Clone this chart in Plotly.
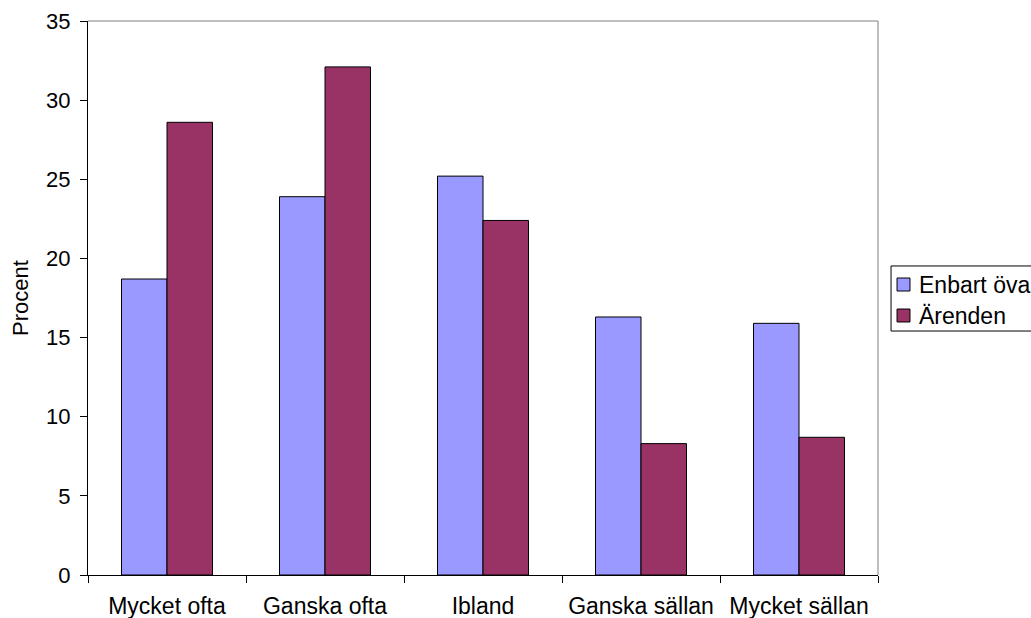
import plotly.graph_objects as go

# Response categories and the share (percent) for each group
categories = ["Mycket ofta", "Ganska ofta", "Ibland", "Ganska sällan", "Mycket sällan"]
series_names = ["Enbart öva", "Ärenden"]
enbart_ovande = [18.7, 23.9, 25.2, 16.3, 15.9]
arenden = [28.6, 32.1, 22.4, 8.3, 8.7]
y_ticks = [0, 5, 10, 15, 20, 25, 30, 35]

FONT = "Liberation Sans, Arial, sans-serif"
COLORS = ["#9999FF", "#993366"]

fig = go.Figure()
for name, values, color in zip(series_names, [enbart_ovande, arenden], COLORS):
    fig.add_trace(go.Bar(
        x=categories, y=values, name=name,
        marker=dict(color=color, line=dict(color="black", width=1)),
    ))

fig.update_layout(
    width=1031, height=618,
    margin=dict(l=88, r=153, t=21, b=43, autoexpand=False),
    paper_bgcolor="white", plot_bgcolor="white",
    font=dict(family=FONT, size=22, color="black"),
    barmode="group", bargap=0.424, bargroupgap=0,
    showlegend=False,
)

fig.update_xaxes(
    showline=True, linecolor="black", linewidth=1,
    ticks="outside", ticklen=7, tickcolor="black", tickson="boundaries",
    showgrid=False, automargin=False, ticklabelstandoff=10,
    tickfont=dict(family=FONT, size=23, color="black"),
)
fig.update_yaxes(
    range=[0, 35], tickvals=y_ticks,
    showline=True, linecolor="black", linewidth=1,
    ticks="outside", ticklen=7, tickcolor="black",
    showgrid=False, zeroline=False, automargin=False, ticklabelstandoff=5,
    tickfont=dict(family=FONT, size=22, color="black"),
    title=dict(text="Procent", font=dict(family=FONT, size=22, color="black"), standoff=11),
)

# Grey frame on the top and right edges of the plot area
fig.add_shape(type="line", xref="paper", yref="paper", x0=0, x1=1, y0=1, y1=1,
              line=dict(color="#808080", width=1))
fig.add_shape(type="line", xref="paper", yref="paper", x0=1, x1=1, y0=0, y1=1,
              line=dict(color="#808080", width=1))

# Legend box to the right of the plot area, running past the page edge
fig.add_shape(type="rect", xref="paper", yref="paper",
              x0=1.0165, x1=1.3, y0=0.4404, y1=0.5578,
              line=dict(color="black", width=1), fillcolor="white", layer="above")
legend_rows = [(0.5126, 0.5361), (0.4567, 0.4801)]
for name, color, (y0, y1) in zip(series_names, COLORS, legend_rows):
    fig.add_shape(type="rect", xref="paper", yref="paper",
                  x0=1.0241, x1=1.0405, y0=y0, y1=y1,
                  line=dict(color="black", width=1), fillcolor=color, layer="above")
    fig.add_annotation(xref="paper", yref="paper", x=1.0494, y=(y0 + y1) / 2,
                       xanchor="left", yanchor="middle", showarrow=False,
                       text=name, font=dict(family=FONT, size=23, color="black"))

fig.write_html("out.html")
